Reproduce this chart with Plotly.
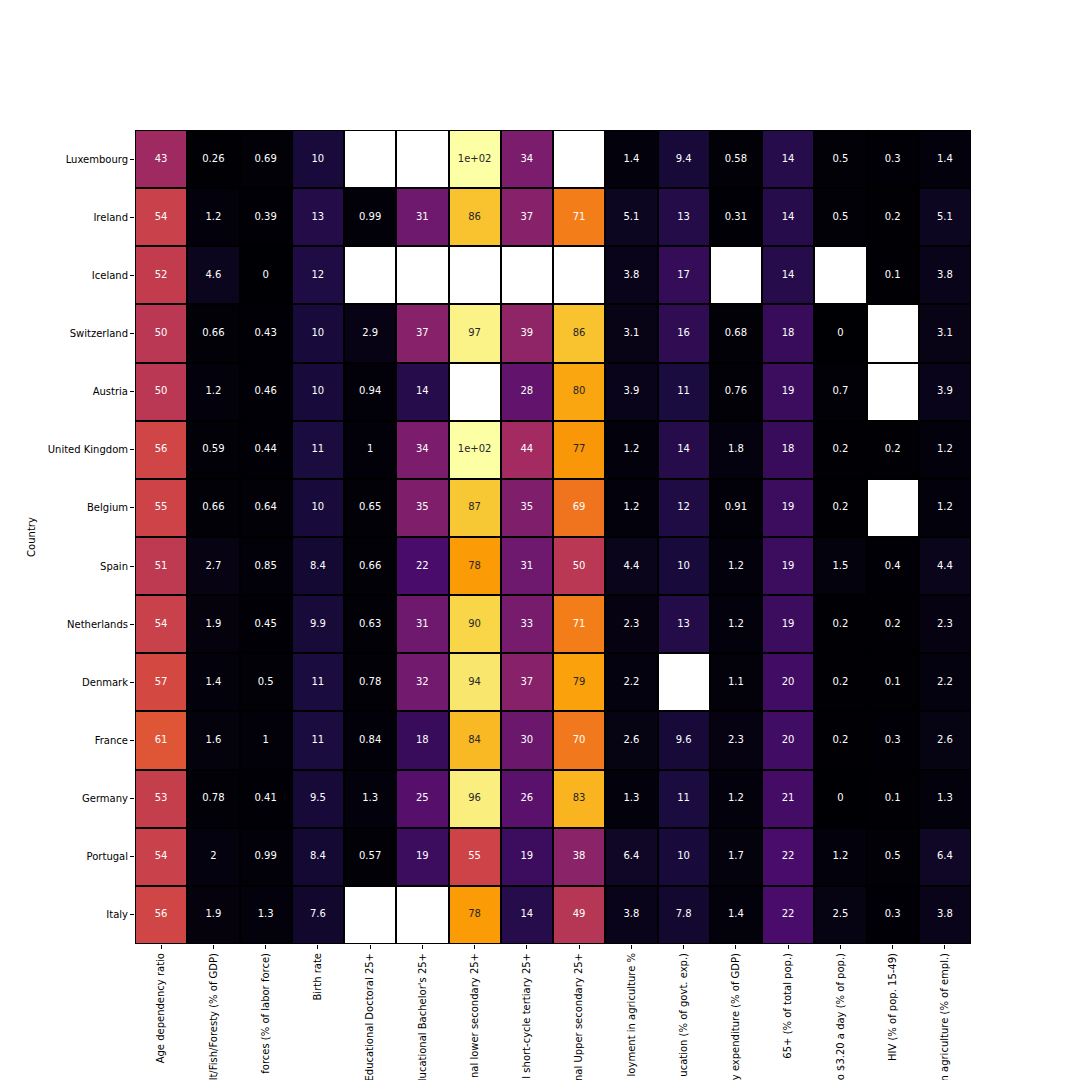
import plotly.graph_objects as go
from plotly.colors import sample_colorscale, unlabel_rgb

countries = ["Luxembourg", "Ireland", "Iceland", "Switzerland", "Austria", "United Kingdom",
             "Belgium", "Spain", "Netherlands", "Denmark", "France", "Germany", "Portugal", "Italy"]

# tick labels as they are visible in the reference (cut at the page edge there)
indicators = [
    "Age dependency ratio",
    "lt/Fish/Foresty (% of GDP)",
    "forces (% of labor force)",
    "Birth rate",
    "Educational Doctoral 25+",
    "lucational Bachelor's 25+",
    "nal lower secondary 25+",
    "l short-cycle tertiary 25+",
    "nal Upper secondary 25+",
    "loyment in agriculture %",
    "ucation (% of govt. exp.)",
    "y expenditure (% of GDP)",
    "65+ (% of total pop.)",
    "o $3.20 a day (% of pop.)",
    "HIV (% of pop. 15-49)",
    "n agriculture (% of empl.)",
]

age_dependency = [43, 54, 52, 50, 50, 56, 55, 51, 54, 57, 61, 53, 54, 56]
agri_gdp = [0.26, 1.2, 4.6, 0.66, 1.2, 0.59, 0.66, 2.7, 1.9, 1.4, 1.6, 0.78, 2, 1.9]
armed_forces = [0.69, 0.39, 0, 0.43, 0.46, 0.44, 0.64, 0.85, 0.45, 0.5, 1, 0.41, 0.99, 1.3]
birth_rate = [10, 13, 12, 10, 10, 11, 10, 8.4, 9.9, 11, 11, 9.5, 8.4, 7.6]
edu_doctoral = [None, 0.99, None, 2.9, 0.94, 1, 0.65, 0.66, 0.63, 0.78, 0.84, 1.3, 0.57, None]
edu_bachelor = [None, 31, None, 37, 14, 34, 35, 22, 31, 32, 18, 25, 19, None]
edu_lower_sec = [100, 86, None, 97, None, 100, 87, 78, 90, 94, 84, 96, 55, 78]
edu_short_tert = [34, 37, None, 39, 28, 44, 35, 31, 33, 37, 30, 26, 19, 14]
edu_upper_sec = [None, 71, None, 86, 80, 77, 69, 50, 71, 79, 70, 83, 38, 49]
employment_agri = [1.4, 5.1, 3.8, 3.1, 3.9, 1.2, 1.2, 4.4, 2.3, 2.2, 2.6, 1.3, 6.4, 3.8]
edu_govt_exp = [9.4, 13, 17, 16, 11, 14, 12, 10, 13, None, 9.6, 11, 10, 7.8]
military_exp = [0.58, 0.31, None, 0.68, 0.76, 1.8, 0.91, 1.2, 1.2, 1.1, 2.3, 1.2, 1.7, 1.4]
pop_65 = [14, 14, 14, 18, 19, 18, 19, 19, 19, 20, 20, 21, 22, 22]
poverty_320 = [0.5, 0.5, None, 0, 0.7, 0.2, 0.2, 1.5, 0.2, 0.2, 0.2, 0, 1.2, 2.5]
hiv = [0.3, 0.2, 0.1, None, None, 0.2, None, 0.4, 0.2, 0.1, 0.3, 0.1, 0.5, 0.3]
employment_agri_empl = [1.4, 5.1, 3.8, 3.1, 3.9, 1.2, 1.2, 4.4, 2.3, 2.2, 2.6, 1.3, 6.4, 3.8]

columns = [age_dependency, agri_gdp, armed_forces, birth_rate, edu_doctoral, edu_bachelor,
           edu_lower_sec, edu_short_tert, edu_upper_sec, employment_agri, edu_govt_exp,
           military_exp, pop_65, poverty_320, hiv, employment_agri_empl]

# z[row][col]
z = [[columns[c][r] for c in range(len(columns))] for r in range(len(countries))]
vals = [v for row in z for v in row if v is not None]
zmin, zmax = min(vals), max(vals)

# mask of missing cells (drawn white)
missing = [[1 if v is None else None for v in row] for row in z]


def luminance(v):
    t = (v - zmin) / (zmax - zmin)
    rgb = unlabel_rgb(sample_colorscale("Inferno", [t])[0])
    lin = []
    for c in rgb:
        c = c / 255
        lin.append(c / 12.92 if c <= 0.03928 else ((c + 0.055) / 1.055) ** 2.4)
    return 0.2126 * lin[0] + 0.7152 * lin[1] + 0.0722 * lin[2]


tx, ty, tt, tc = [], [], [], []
for r, cname in enumerate(countries):
    for c, ind in enumerate(indicators):
        v = z[r][c]
        if v is None:
            continue
        tx.append(ind)
        ty.append(cname)
        tt.append(format(v, ".2g"))
        tc.append("#262626" if luminance(v) > 0.408 else "#ffffff")

fig = go.Figure()
fig.add_trace(go.Heatmap(
    z=z, x=indicators, y=countries, colorscale="Inferno", zmin=zmin, zmax=zmax,
    showscale=False, xgap=2, ygap=2, hoverongaps=False,
))
fig.add_trace(go.Heatmap(
    z=missing, x=indicators, y=countries, colorscale=[[0, "#ffffff"], [1, "#ffffff"]],
    showscale=False, xgap=2, ygap=2, hoverongaps=False,
))
fig.add_trace(go.Scatter(
    x=tx, y=ty, text=tt, mode="text",
    textfont=dict(family="DejaVu Sans", size=10, color=tc),
    hoverinfo="skip", showlegend=False,
))

fig.update_layout(
    width=1080, height=1080,
    margin=dict(l=127, r=117, t=122, b=144, autoexpand=False),
    paper_bgcolor="white", plot_bgcolor="black",
    font=dict(family="DejaVu Sans", size=10, color="#000000"),
    showlegend=False,
)
fig.update_xaxes(
    type="category", range=[-0.5, len(indicators) - 0.5],
    tickangle=-90, ticks="outside", ticklen=4, tickcolor="#000",
    showgrid=False, zeroline=False, showline=False, automargin=False,
    tickfont=dict(size=10, family="DejaVu Sans", color="#000"),
)
fig.update_yaxes(
    type="category", range=[len(countries) - 0.5, -0.5],
    ticks="outside", ticklen=4, tickcolor="#000",
    showgrid=False, zeroline=False, showline=False, automargin=False,
    tickfont=dict(size=10, family="DejaVu Sans", color="#000"),
    title=dict(text="Country", font=dict(size=10, family="DejaVu Sans", color="#000"), standoff=10),
)

fig.write_html("out.html")
